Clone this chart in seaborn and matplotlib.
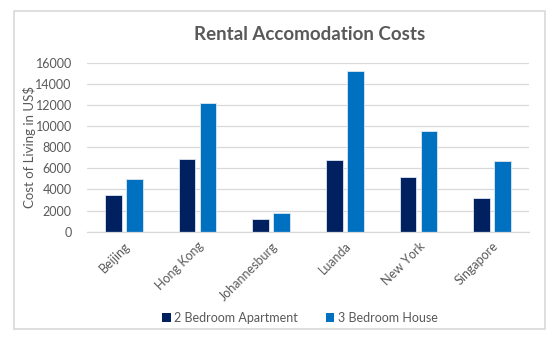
import matplotlib
matplotlib.use("Agg")
import matplotlib.pyplot as plt
import matplotlib.patches as mpatches
import seaborn as sns
import pandas as pd

cities = ["Beijing", "Hong Kong", "Johannesburg", "Luanda", "New York", "Singapore"]
two_bedroom_apartment = [3440, 6880, 1170, 6750, 5140, 3190]
three_bedroom_house = [5000, 12150, 1770, 15240, 9530, 6660]
series_names = ["2 Bedroom Apartment", "3 Bedroom House"]
y_ticks = [0, 2000, 4000, 6000, 8000, 10000, 12000, 14000, 16000]

df = pd.DataFrame({
    "City": cities * 2,
    "Type": [series_names[0]] * len(cities) + [series_names[1]] * len(cities),
    "Cost": two_bedroom_apartment + three_bedroom_house,
})

sns.set_theme(style="white")
plt.rcParams["font.family"] = ["Lato", "DejaVu Sans"]

text_grey = "#595959"
palette = {series_names[0]: "#002060", series_names[1]: "#0070C0"}

fig = plt.figure(figsize=(5.55, 3.42), dpi=100)
ax = fig.add_axes([87 / 555, 1 - 231.7 / 342, (529 - 87) / 555, (231.7 - 62.7) / 342])

sns.barplot(data=df, x="City", y="Cost", hue="Type", palette=palette,
            width=0.57, gap=0.2, saturation=1, edgecolor="#dde6f0", linewidth=0.6,
            ax=ax, legend=False)

ax.set_ylim(0, 16000)
ax.set_xlim(-0.5, len(cities) - 0.5)
ax.set_yticks(y_ticks)
ax.set_yticklabels([str(t) for t in y_ticks], fontsize=9, color=text_grey)
ax.yaxis.grid(True, color="#d9d9d9", linewidth=0.9)
ax.set_axisbelow(True)
for side in ["top", "right", "left"]:
    ax.spines[side].set_visible(False)
ax.spines["bottom"].set_color("#d9d9d9")
ax.spines["bottom"].set_linewidth(0.9)
ax.tick_params(axis="y", length=0, pad=11)
ax.tick_params(axis="x", length=0, pad=6)
ax.set_xticks(range(len(cities)))
ax.set_xticklabels(cities, rotation=45, ha="right", rotation_mode="anchor",
                   fontsize=9, color=text_grey)
ax.set_xlabel("")
ax.set_ylabel("Cost of Living in US$", fontsize=9.5, color=text_grey)
ax.yaxis.set_label_coords((36 - 87) / 442, 0.5)

fig.text(310 / 555, 1 - 35 / 342, "Rental Accomodation Costs", ha="center", va="center",
         fontsize=13.5, fontweight="bold", color=text_grey)

handles = [mpatches.Patch(facecolor=palette[n], edgecolor="none", label=n) for n in series_names]
fig.legend(handles=handles, loc="center", bbox_to_anchor=(300 / 555, 1 - 318 / 342),
           ncol=2, frameon=False, fontsize=9, labelcolor=text_grey,
           handlelength=0.7, handleheight=0.7, handletextpad=0.3, columnspacing=2.2)

fig.patches.append(mpatches.Rectangle((14 / 555, 1 - 329 / 342), (545 - 14) / 555, (329 - 11) / 342,
                                      transform=fig.transFigure, fill=False,
                                      edgecolor="#d9d9d9", linewidth=1.2))

fig.savefig("out.png", dpi=100)
